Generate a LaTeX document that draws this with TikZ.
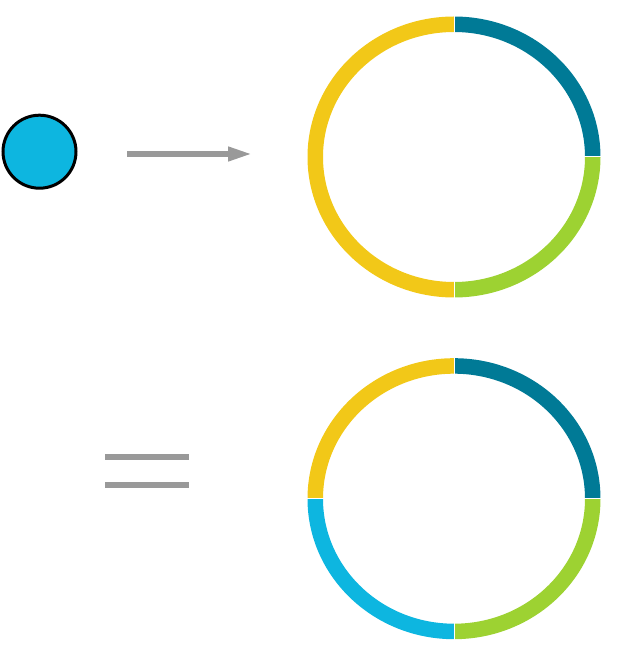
\documentclass[tikz,border=0pt]{standalone}
\usetikzlibrary{arrows.meta}
\definecolor{cteal}{RGB}{0,122,150}
\definecolor{cgreen}{RGB}{157,210,50}
\definecolor{cyellow}{RGB}{242,200,24}
\definecolor{cblue}{RGB}{13,182,224}
\definecolor{cgray}{RGB}{153,153,153}
\tikzset{
  seg/.style={line width=15.5pt},
  gap/.style={draw=white, line width=1pt},
  bar/.style={draw=cgray, line width=5.5pt},
  dot/.style={circle, draw=black, line width=3pt, fill=cblue, minimum size=73pt, inner sep=0pt}
}
\newcommand{\ringseg}[4]{% center, start, end, colour
  \draw[seg, draw=#4] (#1) ++(#2:138.75pt and 132.75pt) arc[start angle=#2, end angle=#3, x radius=138.75pt, y radius=132.75pt];}
\newcommand{\ringgap}[2]{% center, angle
  \draw[gap] (#1) ++(#2:130pt and 124pt) -- ($(#1)+(#2:147.5pt and 141.5pt)$);}
\usetikzlibrary{calc}
\begin{document}
\begin{tikzpicture}[x=1pt,y=1pt]
\useasboundingbox (0,0) rectangle (618,657);
% source dot
\node[dot] (src) at (39.5,505.3) {};
% top ring
\coordinate (T) at (454,500);
\ringseg{T}{90}{0}{cteal}
\ringseg{T}{0}{-90}{cgreen}
\ringseg{T}{90}{270}{cyellow}
\ringgap{T}{90}
\ringgap{T}{0}
\ringgap{T}{-90}
% arrow
\coordinate (a0) at (127,503);
\coordinate (a1) at (252,503);
\draw[bar, -{Triangle[length=24pt,width=13.5pt]}, shorten >=0pt] (a0) -- (a1);
% bottom ring
\coordinate (B) at (454,158.3);
\ringseg{B}{90}{0}{cteal}
\ringseg{B}{0}{-90}{cgreen}
\ringseg{B}{180}{270}{cblue}
\ringseg{B}{90}{180}{cyellow}
\ringgap{B}{90}
\ringgap{B}{0}
\ringgap{B}{-90}
\ringgap{B}{180}
% equals sign
\coordinate (e0) at (105,200);
\coordinate (e1) at (189,200);
\coordinate (e2) at (105,172);
\coordinate (e3) at (189,172);
\draw[bar] (e0) -- (e1);
\draw[bar] (e2) -- (e3);
\end{tikzpicture}
\end{document}
